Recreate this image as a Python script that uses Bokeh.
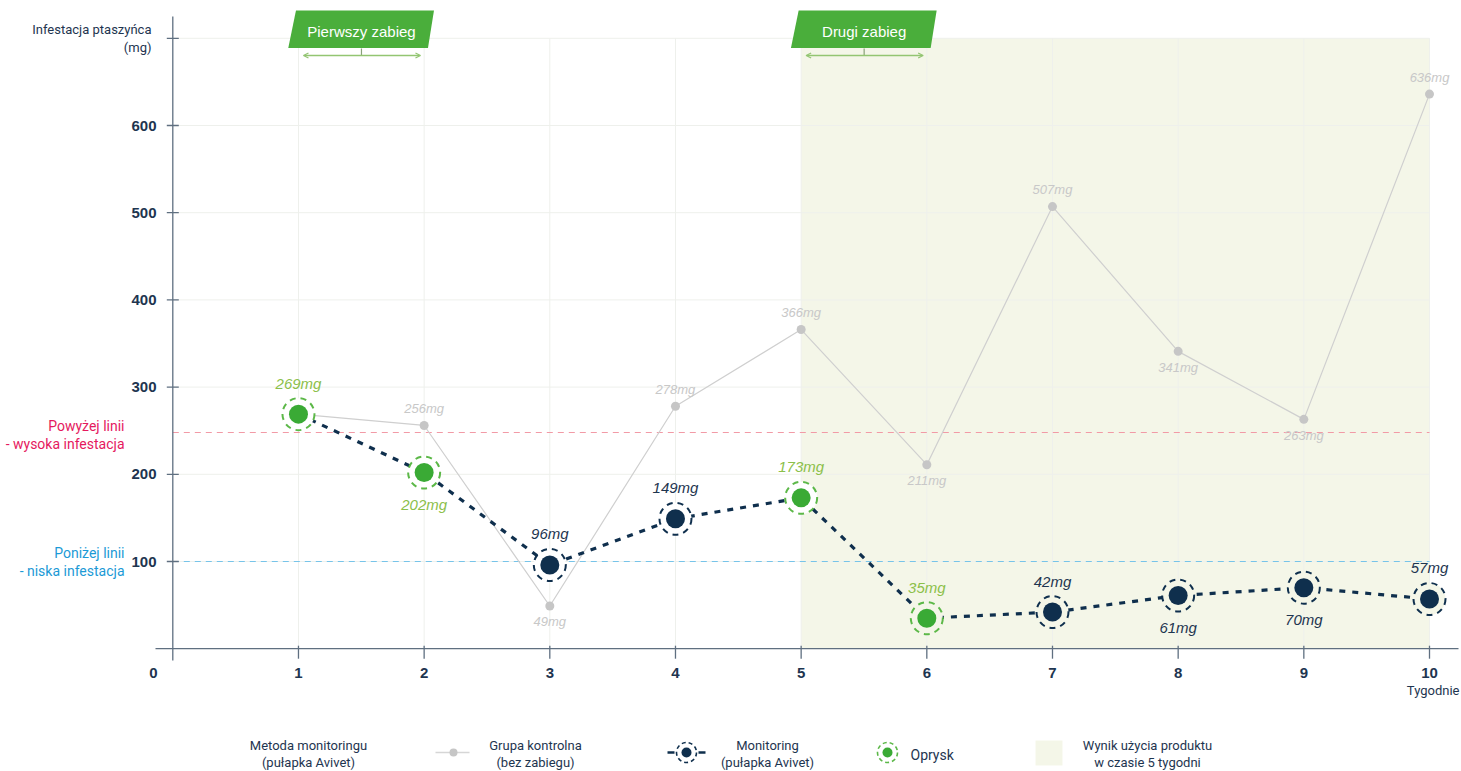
from bokeh.plotting import figure
from bokeh.models import Range1d, ColumnDataSource, Arrow, OpenHead
from bokeh.core.properties import value
from bokeh.embed import file_html
from bokeh.resources import INLINE

# ---------------- data ----------------
weeks = [1, 2, 3, 4, 5, 6, 7, 8, 9, 10]
control_mg = [269, 256, 49, 278, 366, 211, 507, 341, 263, 636]
control_labels = ["", "256mg", "49mg", "278mg", "366mg", "211mg", "507mg", "341mg", "263mg", "636mg"]
control_label_above = [True, True, False, True, True, False, True, False, False, True]
monitor_mg = [269, 202, 96, 149, 173, 35, 42, 61, 70, 57]
monitor_labels = ["269mg", "202mg", "96mg", "149mg", "173mg", "35mg", "42mg", "61mg", "70mg", "57mg"]
monitor_label_above = [True, False, True, True, True, True, True, False, False, True]
spray_weeks = [True, True, False, False, True, True, False, False, False, False]
y_ticks = [100, 200, 300, 400, 500, 600, 700]
y_tick_labels = ["100", "200", "300", "400", "500", "600", ""]
x_tick_labels = ["1", "2", "3", "4", "5", "6", "7", "8", "9", "10"]
high_threshold = 248
low_threshold = 100
treatment_weeks = [1, 5]
treatment_names = ["Pierwszy zabieg", "Drugi zabieg"]
product_start, product_end = 5, 10
y_top = 700

# ---------------- styling / layout helpers ----------------
W, H = 1461, 771
OFF = 0
X0_PX, XS = 172.3, 125.67     # screen px of week 0, px per week
Y0_PX, YS = 648.2, 0.872      # screen px of 0 mg, px per mg


def X(px):
    return (px - X0_PX) / XS


def Y(py):
    return (Y0_PX - py) / YS


NARROW = value("Roboto")
SANS = value("Liberation Sans")
DARK = "#0f2f4d"
TXT = "#1e3550"
GREEN = "#3aaa35"
GREEN_RING = "#5cb848"
GREEN_TXT = "#8cc04a"
GRAY = "#c6c6c6"
SHADE = "#f4f6e8"
AXIS = "#5f6f80"
GRID = "#eef0ec"

p = figure(width=W, height=H, x_range=Range1d(X(OFF), X(OFF + W)),
           y_range=Range1d(Y(OFF + H), Y(OFF)), x_axis_type=None, y_axis_type=None,
           output_backend="svg", toolbar_location=None, min_border=0)
p.outline_line_color = None
p.grid.visible = False
p.background_fill_color = "white"

# shaded product period
p.quad(left=[product_start], right=[product_end], bottom=[0], top=[y_top],
       fill_color=SHADE, line_color=None)

# grid
p.segment(x0=[0] * len(y_ticks), x1=[weeks[-1]] * len(y_ticks), y0=y_ticks, y1=y_ticks,
          line_color=GRID, line_width=1)
p.segment(x0=weeks, x1=weeks, y0=[0] * len(weeks), y1=[y_top] * len(weeks),
          line_color=GRID, line_width=1)

# thresholds
p.segment(x0=[0], x1=[weeks[-1]], y0=[high_threshold], y1=[high_threshold],
          line_color="#f29aa6", line_width=1.1, line_dash="6 5")
p.segment(x0=[0], x1=[weeks[-1]], y0=[low_threshold], y1=[low_threshold],
          line_color="#4fb6e8", line_width=1.1, line_alpha=0.75, line_dash="6 5")

# axes
p.segment(x0=[0], x1=[0], y0=[Y(16)], y1=[Y(660)], line_color=AXIS, line_width=1.3)
p.segment(x0=[X(155)], x1=[X(1458)], y0=[0], y1=[0], line_color=AXIS, line_width=1.3)
tick_half = 6 / XS
p.segment(x0=[-tick_half] * len(y_ticks), x1=[tick_half] * len(y_ticks), y0=y_ticks, y1=y_ticks,
          line_color=AXIS, line_width=1.3)
p.segment(x0=weeks, x1=weeks, y0=[3 / YS] * len(weeks), y1=[-10 / YS] * len(weeks),
          line_color=AXIS, line_width=1.3)

# tick labels
p.text(x=[X(156)] * len(y_ticks), y=y_ticks, text=y_tick_labels, text_font=SANS,
       text_font_style="bold", text_font_size="15px", text_color=TXT,
       text_align="right", text_baseline="middle")
p.text(x=weeks, y=[Y(672)] * len(weeks), text=x_tick_labels, text_font=SANS,
       text_font_style="bold", text_font_size="15px", text_color=TXT,
       text_align="center", text_baseline="middle")
p.text(x=[X(153)], y=[Y(672)], text=["0"], text_font=SANS, text_font_style="bold",
       text_font_size="15px", text_color=TXT, text_align="center", text_baseline="middle")
p.text(x=[X(1459)], y=[Y(690)], text=["Tygodnie"], text_font=NARROW,
       text_font_size="13px", text_color=TXT, text_align="right", text_baseline="middle")

# axis title & threshold notes
p.text(x=[X(151)] * 2, y=[Y(29), Y(47)], text=["Infestacja ptaszyńca", "(mg)"],
       text_font=NARROW, text_font_size="13px", text_color=TXT,
       text_align="right", text_baseline="middle")
p.text(x=[X(124)] * 2, y=[Y(425), Y(443)], text=["Powyżej linii", "- wysoka infestacja"],
       text_font=NARROW, text_font_size="14px", text_color="#e5195e",
       text_align="right", text_baseline="middle")
p.text(x=[X(124)] * 2, y=[Y(552), Y(570)], text=["Poniżej linii", "- niska infestacja"],
       text_font=NARROW, text_font_size="14px", text_color="#1b9ad6",
       text_align="right", text_baseline="middle")

# control group
ctrl = ColumnDataSource(dict(x=weeks, y=control_mg, t=control_labels,
                             off=[-17 if a else 16 for a in control_label_above]))
p.line("x", "y", source=ctrl, line_color="#cfcfcf", line_width=1.2)
p.scatter("x", "y", source=ctrl, size=9, fill_color=GRAY, line_color=None)
p.text("x", "y", text="t", y_offset="off", source=ctrl, text_font=SANS,
       text_font_style="italic", text_font_size="13px", text_color="#c8c8c8",
       text_align="center", text_baseline="middle")

# monitoring
ring_fill = ["white" if w <= product_start else SHADE for w in weeks]
mon = ColumnDataSource(dict(
    x=weeks, y=monitor_mg, t=monitor_labels,
    off=[-31 if a else 32 for a in monitor_label_above],
    dot=[GREEN if s else DARK for s in spray_weeks],
    ring=[GREEN_RING if s else DARK for s in spray_weeks],
    tc=[GREEN_TXT if s else TXT for s in spray_weeks],
    rf=ring_fill))
p.line("x", "y", source=mon, line_color=DARK, line_width=3.2, line_dash="6 7")
p.scatter("x", "y", source=mon, size=32, fill_color="rf", line_color="ring",
          line_width=2, line_dash="6 5")
p.scatter("x", "y", source=mon, size=19, fill_color="dot", line_color=None)
p.text("x", "y", text="t", y_offset="off", source=mon, text_font=SANS,
       text_font_style="italic", text_font_size="15px", text_color="tc",
       text_align="center", text_baseline="middle")

# treatment badges
bx, by = [], []
for w in treatment_weeks:
    bx.append([w + d / XS for d in (-2.5, 135.5, 129.5, -10.2)])
    by.append([Y(10), Y(10), Y(47.5), Y(47.5)])
p.patches(bx, by, fill_color="#4aae3b", line_color=None)
p.text(x=[w + 63 / XS for w in treatment_weeks], y=[Y(31)] * len(treatment_weeks),
       text=treatment_names, text_font=SANS, text_font_size="15px", text_color="white",
       text_align="center", text_baseline="middle")
BR = "#93c572"
for w in treatment_weeks:
    p.add_layout(Arrow(start=OpenHead(size=5, line_color=BR, line_width=1.3),
                       end=OpenHead(size=5, line_color=BR, line_width=1.3),
                       x_start=w + 5 / XS, y_start=Y(55), x_end=w + 122 / XS, y_end=Y(55),
                       line_color=BR, line_width=1.5))
p.segment(x0=[w + 63 / XS for w in treatment_weeks], x1=[w + 63 / XS for w in treatment_weeks],
          y0=[Y(55)] * 2, y1=[Y(48)] * 2, line_color="#8aa27a", line_width=1.2)

# ---------------- legend ----------------
L1, L2, LI = 745, 762, 752
p.text(x=[X(308)] * 2, y=[Y(L1), Y(L2)], text=["Metoda monitoringu", "(pułapka Avivet)"],
       text_font=NARROW, text_font_size="13px", text_color=TXT,
       text_align="center", text_baseline="middle")
p.segment(x0=[X(435)], x1=[X(469)], y0=[Y(LI)], y1=[Y(LI)], line_color="#d6d6d6", line_width=1.5)
p.scatter(x=[X(453)], y=[Y(LI)], size=8, fill_color=GRAY, line_color=None)
p.text(x=[X(535)] * 2, y=[Y(L1), Y(L2)], text=["Grupa kontrolna", "(bez zabiegu)"],
       text_font=NARROW, text_font_size="13px", text_color=TXT,
       text_align="center", text_baseline="middle")
p.segment(x0=[X(667), X(698)], x1=[X(674), X(705)], y0=[Y(LI)] * 2, y1=[Y(LI)] * 2,
          line_color=DARK, line_width=2.5)
p.scatter(x=[X(686)], y=[Y(LI)], size=20, fill_color="white", line_color=DARK,
          line_width=1.6, line_dash="4 3")
p.scatter(x=[X(686)], y=[Y(LI)], size=10, fill_color=DARK, line_color=None)
p.text(x=[X(767)] * 2, y=[Y(L1), Y(L2)], text=["Monitoring", "(pułapka Avivet)"],
       text_font=NARROW, text_font_size="13px", text_color=TXT,
       text_align="center", text_baseline="middle")
p.scatter(x=[X(887)], y=[Y(LI)], size=20, fill_color="white", line_color=GREEN_RING,
          line_width=1.6, line_dash="4 3")
p.scatter(x=[X(887)], y=[Y(LI)], size=10, fill_color=GREEN, line_color=None)
p.text(x=[X(910)], y=[Y(LI + 2)], text=["Oprysk"], text_font=NARROW, text_font_size="14px",
       text_color=TXT, text_align="left", text_baseline="middle")
p.quad(left=[X(1035)], right=[X(1062)], bottom=[Y(765)], top=[Y(740)],
       fill_color=SHADE, line_color=None)
p.text(x=[X(1147)] * 2, y=[Y(L1), Y(L2)], text=["Wynik użycia produktu", "w czasie 5 tygodni"],
       text_font=NARROW, text_font_size="13px", text_color=TXT,
       text_align="center", text_baseline="middle")

open("out.html", "w").write(file_html(p, INLINE))
